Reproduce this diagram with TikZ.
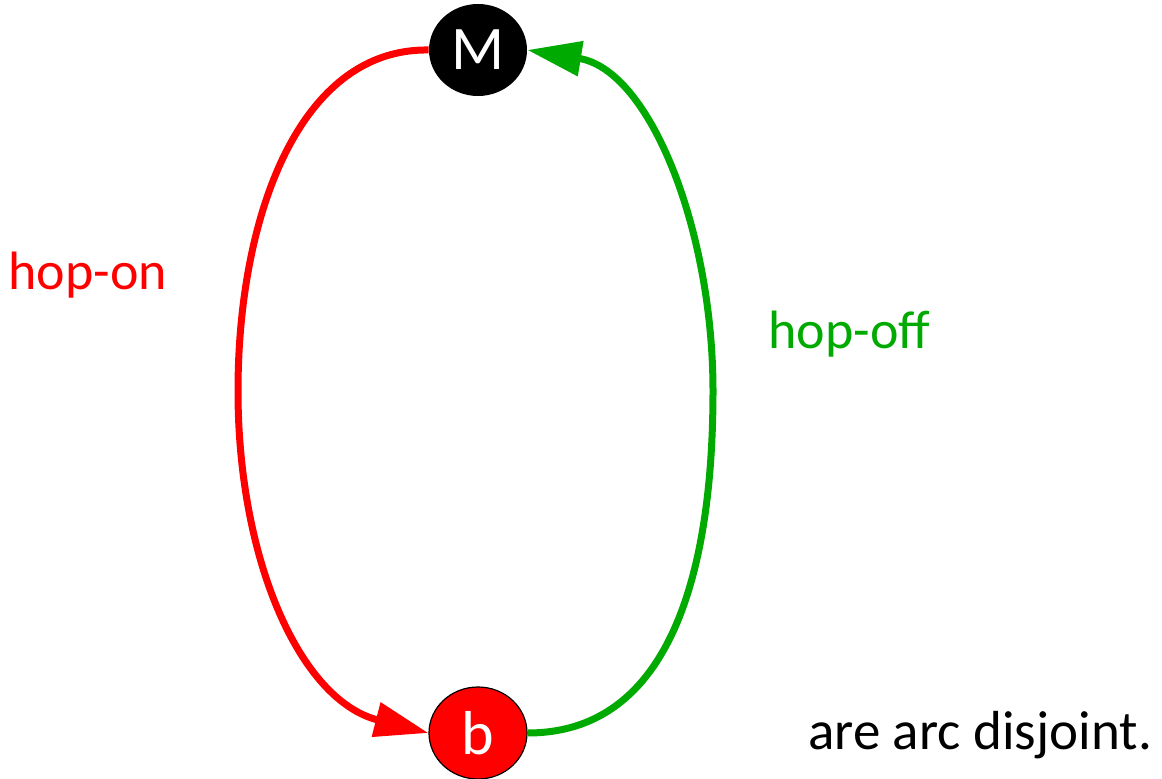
\documentclass[tikz,border=0pt]{standalone}
\usepackage{fontspec}
\setmainfont{Carlito}
\usetikzlibrary{arrows.meta,shapes.geometric}
\definecolor{myred}{RGB}{255,0,0}
\definecolor{mygreen}{RGB}{0,170,0}
\tikzset{
  vertex/.style={ellipse, inner sep=0pt, minimum width=49pt, minimum height=46pt, text=white, font=\fontsize{31}{34}\selectfont},
  conn/.style={line width=3.5pt, -{Triangle[length=27pt,width=17pt]}},
  lbl/.style={anchor=base west, inner sep=0pt, font=\fontsize{27}{32}\selectfont}
}
\begin{document}
\begin{tikzpicture}[x=0.5pt,y=-0.5pt]
\useasboundingbox (0,0) rectangle (1162,779);
\node[vertex, fill=black] (M) at (478,50) {M};
\node[vertex, fill=myred, draw=black, line width=0.6pt] (b) at (478,733) {b};
\draw[conn, myred] (M.west) .. controls (300,48) and (238,215) .. (238,391)
  .. controls (238,560) and (300,700) .. (b.west);
\draw[conn, mygreen] (b.east) .. controls (680,733) and (713,550) .. (713,391)
  .. controls (713,230) and (650,70) .. (M.east);
\node[lbl, text=myred] (on) at (8,290) {hop-on};
\node[lbl, text=mygreen] (off) at (768,349) {hop-off};
\node[lbl, text=black, font=\fontsize{27.5}{32}\selectfont] (ad) at (808,750) {are arc disjoint.};
\end{tikzpicture}
\end{document}
